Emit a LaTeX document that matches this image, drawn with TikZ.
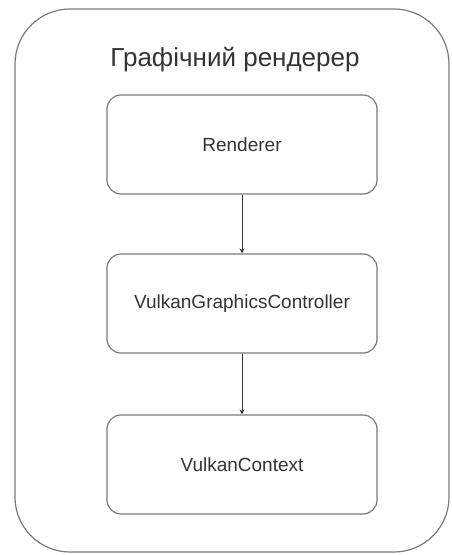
\documentclass[tikz,border=0pt]{standalone}
\usepackage{fontspec}
\setmainfont{Liberation Sans}
\usetikzlibrary{arrows.meta}
\definecolor{edge}{HTML}{7A7A7A}
\definecolor{ink}{HTML}{333333}
\begin{document}
\begin{tikzpicture}[x=1pt,y=-1pt,
  container/.style={draw=edge, line width=1.2pt, rounded corners=55pt},
  block/.style={draw=edge, line width=1.2pt, rounded corners=14pt,
    minimum width=270pt, minimum height=99pt, inner sep=0pt,
    text=ink, font=\fontsize{19}{22}\selectfont},
  link/.style={draw=ink, line width=0.9pt, -{Stealth[length=5pt,width=5pt]}}]
  \useasboundingbox (0,0) rectangle (451,555);
  % outer frame
  \draw[container] (15,9) rectangle (449,552);
  \node[text=ink, font=\fontsize{26}{30}\selectfont] (title) at (235,60) {Графічний рендерер};
  % components
  \node[block] (r) at (242,144.5) {Renderer};
  \node[block] (g) at (242,303.5) {VulkanGraphicsController};
  \node[block] (c) at (242,464.5) {VulkanContext};
  \draw[link] (r.south) -- (g.north);
  \draw[link] (g.south) -- (c.north);
\end{tikzpicture}
\end{document}
